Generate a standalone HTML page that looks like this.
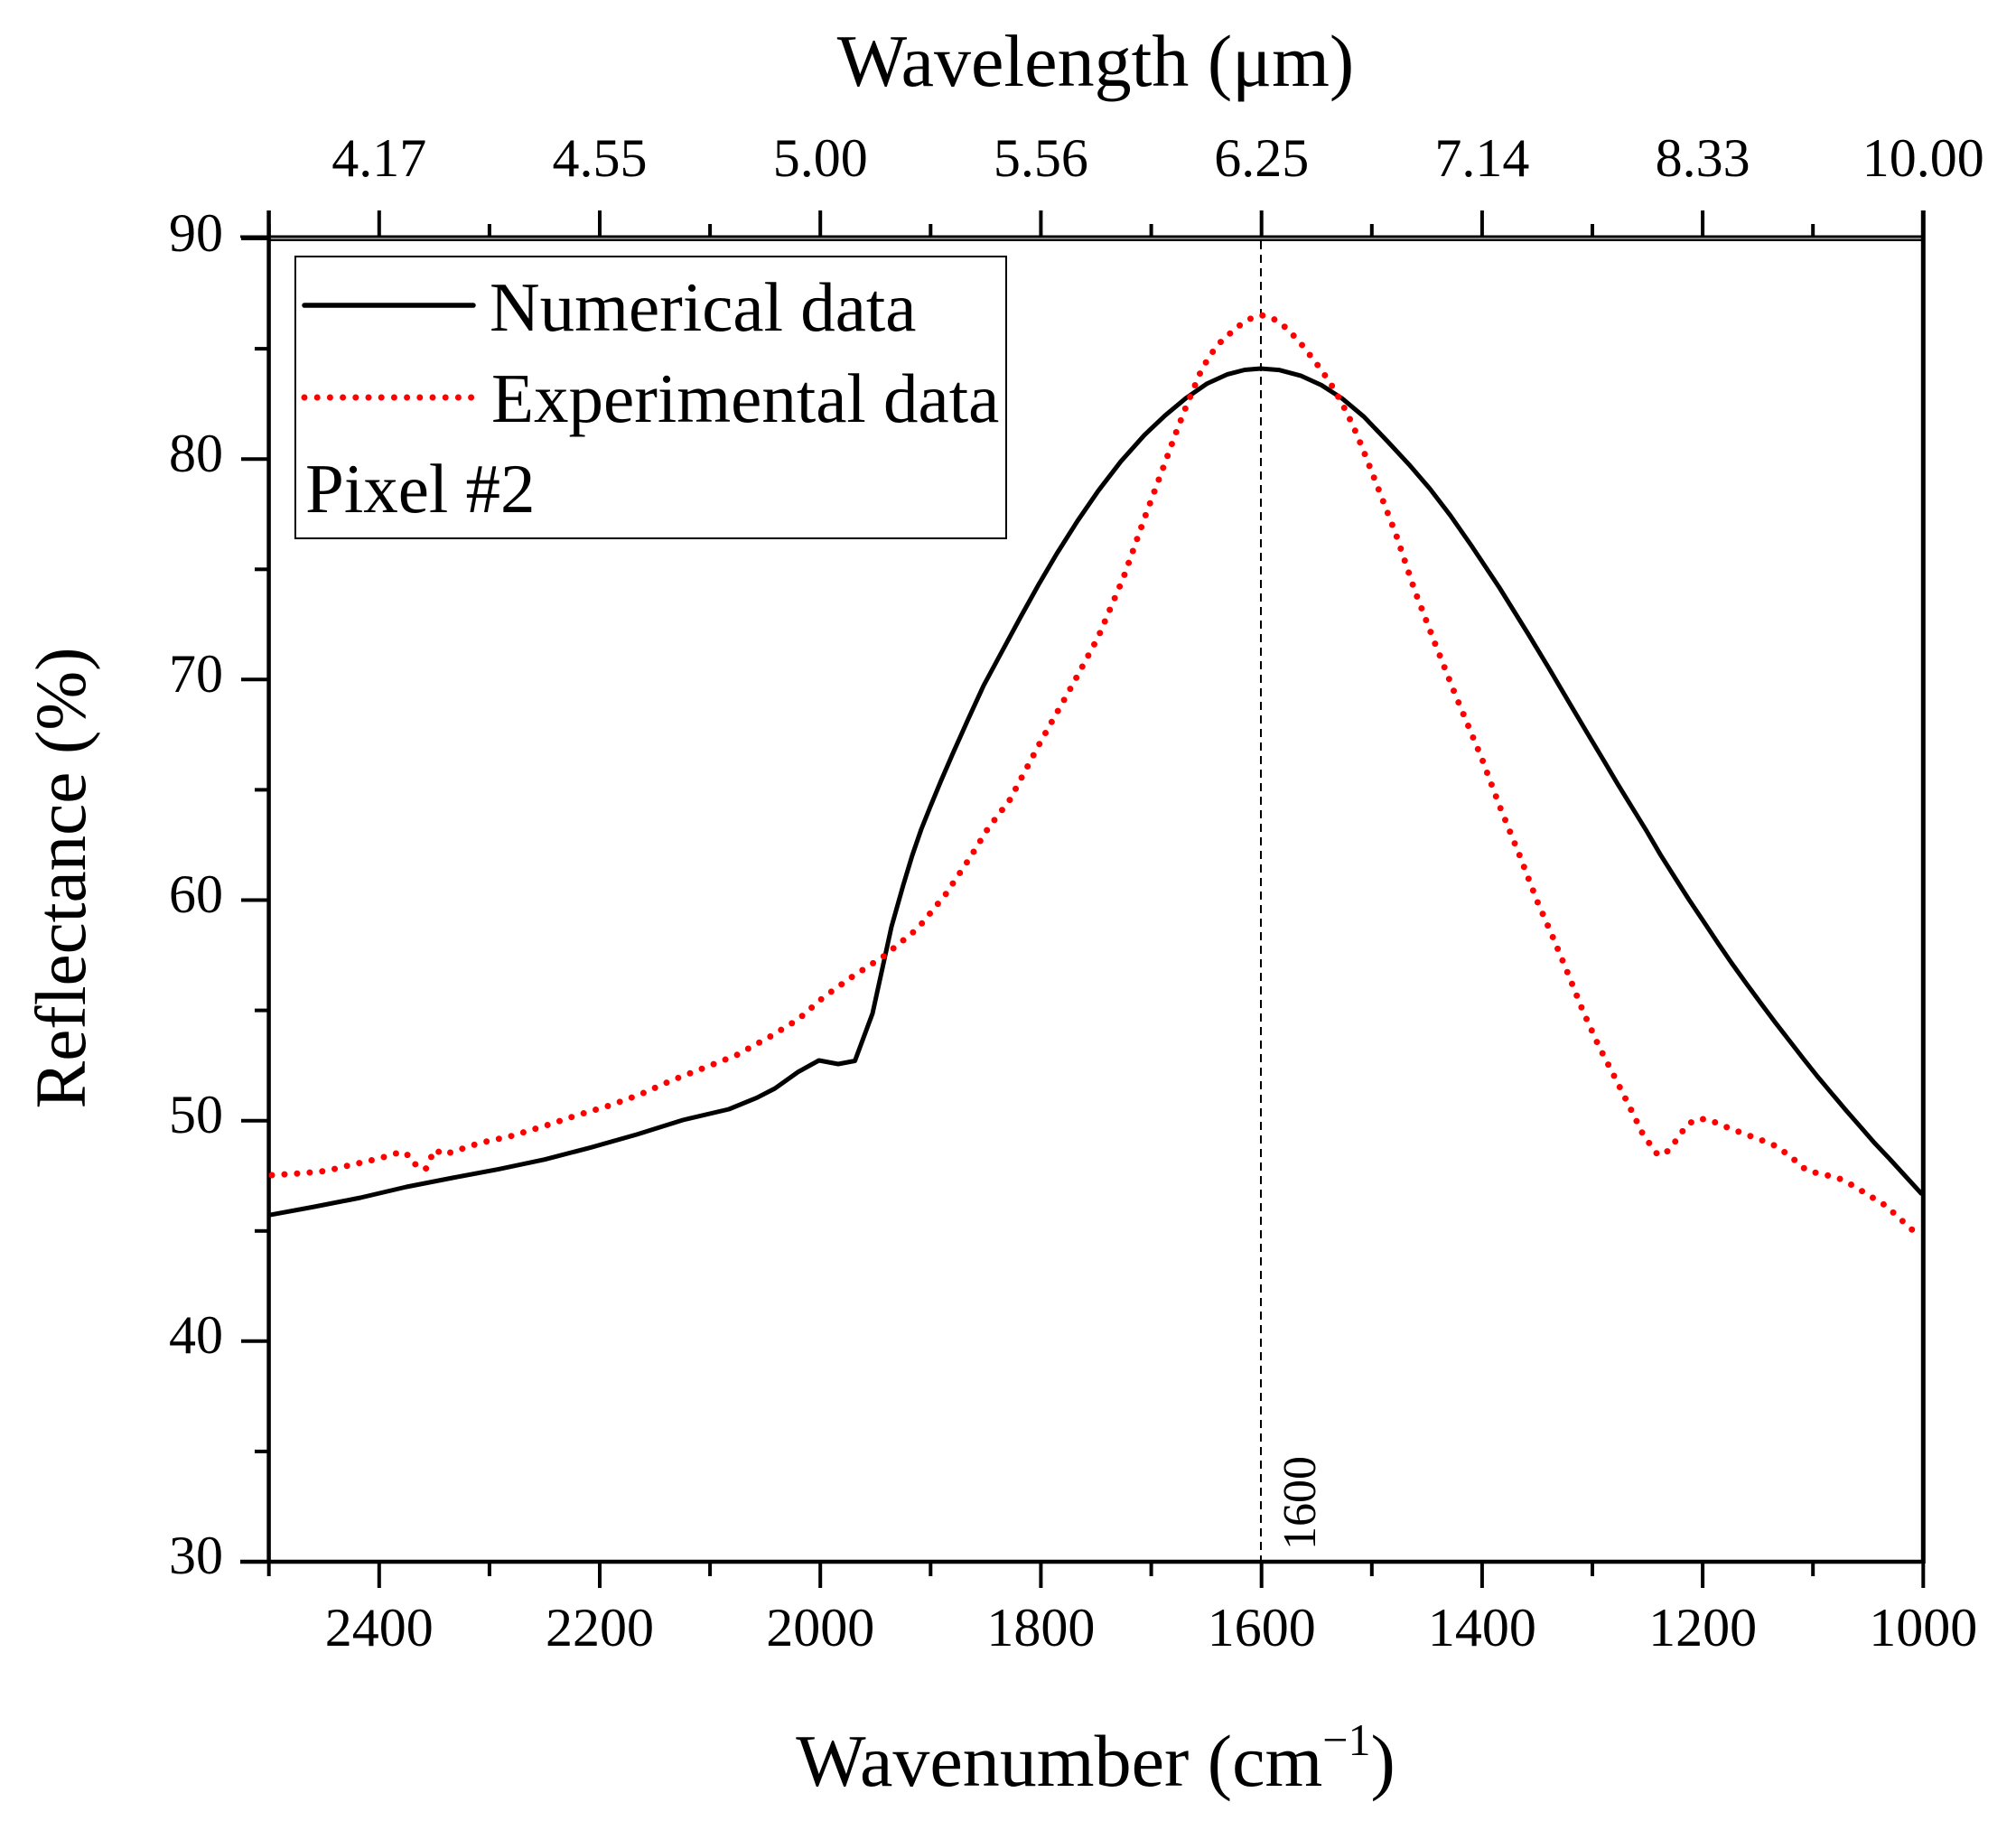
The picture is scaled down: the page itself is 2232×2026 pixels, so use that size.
<!DOCTYPE html>
<html>
<head>
<meta charset="utf-8">
<style>
html,body{margin:0;padding:0;background:#fff;}
svg{display:block;}
text{font-family:"Liberation Serif","DejaVu Serif",serif;fill:#000;}
</style>
</head>
<body>
<svg width="2232" height="2026" viewBox="0 0 2232 2026" xmlns="http://www.w3.org/2000/svg">
<rect x="0" y="0" width="2232" height="2026" fill="#fff"/>

<!-- Titles -->
<text x="1213" y="95" font-size="82" text-anchor="middle">Wavelength (μm)</text>
<text x="1213" y="1977" font-size="82" text-anchor="middle">Wavenumber (cm<tspan font-size="50" dy="-34">−1</tspan><tspan dy="34">)</tspan></text>
<text transform="translate(94,972) rotate(-90)" font-size="79" text-anchor="middle">Reflectance (%)</text>

<!-- Top tick labels -->
<g font-size="60" text-anchor="middle">
<text x="419.8" y="195">4.17</text>
<text x="664.0" y="195">4.55</text>
<text x="908.2" y="195">5.00</text>
<text x="1152.4" y="195">5.56</text>
<text x="1396.7" y="195">6.25</text>
<text x="1640.9" y="195">7.14</text>
<text x="1885.1" y="195">8.33</text>
<text x="2129.3" y="195">10.00</text>
</g>

<!-- Bottom tick labels -->
<g font-size="60" text-anchor="middle">
<text x="419.8" y="1822">2400</text>
<text x="664.0" y="1822">2200</text>
<text x="908.2" y="1822">2000</text>
<text x="1152.4" y="1822">1800</text>
<text x="1396.7" y="1822">1600</text>
<text x="1640.9" y="1822">1400</text>
<text x="1885.1" y="1822">1200</text>
<text x="2129.3" y="1822">1000</text>
</g>

<!-- Left tick labels -->
<g font-size="60" text-anchor="end">
<text x="247" y="278">90</text>
<text x="247" y="522">80</text>
<text x="247" y="766">70</text>
<text x="247" y="1010">60</text>
<text x="247" y="1254">50</text>
<text x="247" y="1498">40</text>
<text x="247" y="1742">30</text>
</g>

<!-- Axes -->
<g stroke="#000" fill="none">
<line x1="266" y1="262" x2="2131" y2="262" stroke-width="3"/>
<line x1="297" y1="265.8" x2="2131" y2="265.8" stroke-width="2.5"/>
<line x1="297.6" y1="233" x2="297.6" y2="1731" stroke-width="4.5"/>
<line x1="2129.3" y1="233" x2="2129.3" y2="1731" stroke-width="5"/>
<line x1="266" y1="1729" x2="2131" y2="1729" stroke-width="4.5"/>
</g>

<!-- Top ticks -->
<g stroke="#000" stroke-width="4">
<line x1="297.7" y1="262" x2="297.7" y2="248"/>
<line x1="419.8" y1="262" x2="419.8" y2="233"/>
<line x1="541.9" y1="262" x2="541.9" y2="248"/>
<line x1="664.0" y1="262" x2="664.0" y2="233"/>
<line x1="786.1" y1="262" x2="786.1" y2="248"/>
<line x1="908.2" y1="262" x2="908.2" y2="233"/>
<line x1="1030.3" y1="262" x2="1030.3" y2="248"/>
<line x1="1152.4" y1="262" x2="1152.4" y2="233"/>
<line x1="1274.6" y1="262" x2="1274.6" y2="248"/>
<line x1="1396.7" y1="262" x2="1396.7" y2="233"/>
<line x1="1518.8" y1="262" x2="1518.8" y2="248"/>
<line x1="1640.9" y1="262" x2="1640.9" y2="233"/>
<line x1="1763.0" y1="262" x2="1763.0" y2="248"/>
<line x1="1885.1" y1="262" x2="1885.1" y2="233"/>
<line x1="2007.2" y1="262" x2="2007.2" y2="248"/>
<line x1="2129.3" y1="262" x2="2129.3" y2="233"/>
</g>

<!-- Bottom ticks -->
<g stroke="#000" stroke-width="4">
<line x1="297.7" y1="1729" x2="297.7" y2="1745"/>
<line x1="419.8" y1="1729" x2="419.8" y2="1758"/>
<line x1="541.9" y1="1729" x2="541.9" y2="1745"/>
<line x1="664.0" y1="1729" x2="664.0" y2="1758"/>
<line x1="786.1" y1="1729" x2="786.1" y2="1745"/>
<line x1="908.2" y1="1729" x2="908.2" y2="1758"/>
<line x1="1030.3" y1="1729" x2="1030.3" y2="1745"/>
<line x1="1152.4" y1="1729" x2="1152.4" y2="1758"/>
<line x1="1274.6" y1="1729" x2="1274.6" y2="1745"/>
<line x1="1396.7" y1="1729" x2="1396.7" y2="1758"/>
<line x1="1518.8" y1="1729" x2="1518.8" y2="1745"/>
<line x1="1640.9" y1="1729" x2="1640.9" y2="1758"/>
<line x1="1763.0" y1="1729" x2="1763.0" y2="1745"/>
<line x1="1885.1" y1="1729" x2="1885.1" y2="1758"/>
<line x1="2007.2" y1="1729" x2="2007.2" y2="1745"/>
<line x1="2129.3" y1="1729" x2="2129.3" y2="1758"/>
</g>

<!-- Left ticks -->
<g stroke="#000" stroke-width="4">
<line x1="267" y1="264" x2="297" y2="264"/>
<line x1="282" y1="386.1" x2="297" y2="386.1"/>
<line x1="267" y1="508.2" x2="297" y2="508.2"/>
<line x1="282" y1="630.3" x2="297" y2="630.3"/>
<line x1="267" y1="752.3" x2="297" y2="752.3"/>
<line x1="282" y1="874.4" x2="297" y2="874.4"/>
<line x1="267" y1="996.5" x2="297" y2="996.5"/>
<line x1="282" y1="1118.6" x2="297" y2="1118.6"/>
<line x1="267" y1="1240.7" x2="297" y2="1240.7"/>
<line x1="282" y1="1362.8" x2="297" y2="1362.8"/>
<line x1="267" y1="1484.8" x2="297" y2="1484.8"/>
<line x1="282" y1="1606.9" x2="297" y2="1606.9"/>
<line x1="267" y1="1729" x2="297" y2="1729"/>
</g>

<!-- Dashed 1600 line -->
<line x1="1396" y1="267" x2="1396" y2="1727" stroke="#000" stroke-width="2" stroke-dasharray="9 6"/>
<text transform="translate(1456,1716) rotate(-90)" font-size="52">1600</text>

<!-- Numerical data (black) -->
<polyline fill="none" stroke="#000" stroke-width="5" stroke-linejoin="round" stroke-linecap="round"
points="299.6,1344.9 348,1336 399,1326 450,1314 501,1304 552,1294.4 603,1283.7 654,1270.4 705,1256 756,1240 807,1228 838,1215.3 858,1205 883.7,1186.7 906.7,1174 928,1178 946.5,1174.5 966,1122 987,1026 1000,980 1010,947 1020,918 1030,893 1042,864 1055,834 1072,796 1089,759 1110,720 1130,683 1150,647 1170,613 1193,576.7 1216,543.3 1241,510.8 1267,481.7 1290,459.9 1313,440.8 1336,424.9 1359,414.4 1378,409.5 1396,408 1416,409.6 1440,415.9 1463,426.4 1486,441.2 1510,461.3 1537,489.5 1560,514.3 1583,541 1606,571 1629,604 1660,650.5 1692,702 1715,740 1738,779 1757,811 1775,841 1791,868 1807,894 1823,920 1838.4,946.3 1854,971 1870,996.1 1886,1020 1901.7,1043.6 1917,1066 1933.3,1088.7 1949,1110 1965,1131.4 1981,1152 1996.6,1172.1 2012,1191.5 2028.2,1210.8 2044,1229.5 2059.9,1247.6 2075,1265 2091.5,1282.4 2109,1301.5 2127,1321.2"/>

<!-- Experimental data (red dotted) -->
<polyline fill="none" stroke="#ff0000" stroke-width="7" stroke-linejoin="round" stroke-linecap="round" stroke-dasharray="0 14"
points="301,1301 333,1299 361,1296.4 386,1290.3 419.4,1282.7 445,1275 456,1281.6 461.3,1291.8 471.5,1293.9 475.6,1283.7 483,1272.4 488,1277.6 498.5,1276 531.7,1265.3 565,1258 601.6,1247 637.3,1235.2 674.6,1224 708.7,1211.7 744,1196 777.6,1183 815,1168.4 853,1147.4 883.7,1128.6 911.8,1104 944,1081 978,1059 1016,1028 1047,990 1073,951 1094,917 1118,885.5 1153,819.5 1187,759 1216,705 1244,639 1267,574 1287,520 1302,479 1314,448 1322,429 1330,410 1340,393 1350,380 1362,369 1374,359 1386,352 1396.5,349 1406,351 1417,357 1428,367 1440,380 1451,394 1462.5,409 1474,426 1485.5,446 1497,469 1508,495 1526,541 1546,593 1566,653 1589,713 1612,771 1640.5,839.5 1660.5,893 1682,946 1702,998 1719,1037 1735.6,1077 1752,1118 1770,1158 1789,1195 1807,1231 1819.4,1256.7 1835.7,1279 1846.3,1274.5 1854.2,1264.6 1868,1245 1878.8,1239 1889.8,1239 1901.7,1243.6 1914.3,1249 1937.3,1257.5 1962,1266.6 1981,1279 1991,1288 2000.5,1296 2022,1301 2033.4,1303.4 2047,1310 2067,1322 2087.5,1334.6 2107,1352.4 2127,1370.6"/>

<!-- Legend -->
<rect x="327" y="284" width="787" height="312" fill="#fff" stroke="#000" stroke-width="2"/>
<line x1="337" y1="338" x2="524" y2="338" stroke="#000" stroke-width="5.5" stroke-linecap="round"/>
<line x1="337" y1="440" x2="524" y2="440" stroke="#ff0000" stroke-width="7" stroke-linecap="round" stroke-dasharray="0 14.2"/>
<text x="542" y="366" font-size="77">Numerical data</text>
<text x="544" y="467" font-size="77">Experimental data</text>
<text x="338" y="567" font-size="77">Pixel #2</text>
</svg>
</body>
</html>
